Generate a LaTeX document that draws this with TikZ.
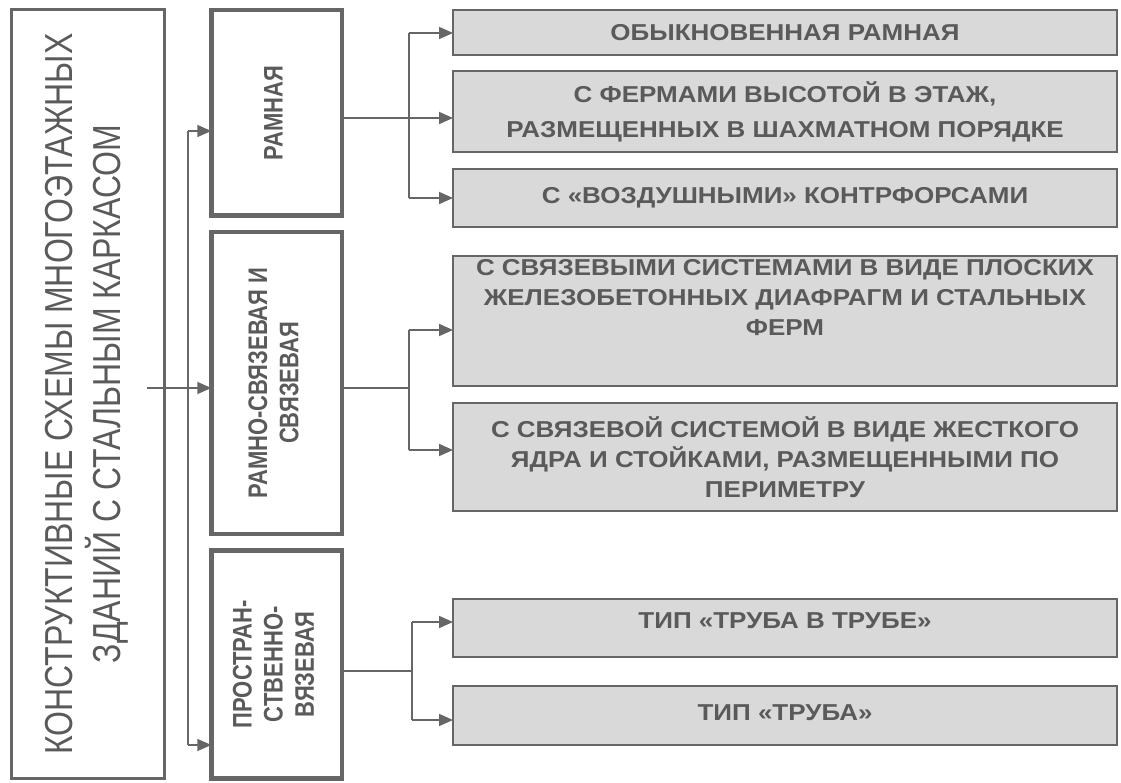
\documentclass[tikz,border=0pt]{standalone}
\usepackage{fontspec}
\setmainfont{Liberation Sans}
\newfontfamily\widefont[FakeStretch=1.13]{Liberation Sans}
\usetikzlibrary{arrows.meta}
\definecolor{framegray}{HTML}{666666}
\definecolor{textgray}{HTML}{5A5A5A}
\definecolor{cellfill}{HTML}{D9D9D9}
\newcommand{\uptext}[2]{\rotatebox{90}{\scalebox{1}[1.22]{#1\begin{tabular}{@{}c@{}}#2\end{tabular}}}}

\begin{document}
\begin{tikzpicture}[x=1pt,y=-1pt,
	mainbox/.style={draw=framegray,line width=3pt,anchor=north west,inner sep=0pt,outer sep=0pt,text=textgray},
	groupbox/.style={draw=framegray,line width=4.5pt,anchor=north west,inner sep=0pt,outer sep=0pt,minimum width=130.5pt,text=textgray},
	typebox/.style={draw=framegray,line width=1.6pt,fill=cellfill,anchor=north west,inner sep=0pt,outer sep=0pt,minimum width=664pt,text=textgray,align=center,font=\widefont\bfseries\fontsize{23}{30}\selectfont},
	link/.style={draw=framegray,line width=1.8pt},
	feed/.style={link,-{Triangle[length=14pt,width=12pt]}}]
			%%%%% START %%%%%
			\useasboundingbox (0,0) rectangle (1121,783);
			
			\node[mainbox,minimum width=153pt,minimum height=769pt] (frame) at (11.5,9.5)
				{\uptext{\fontsize{32}{34}\selectfont}{КОНСТРУКТИВНЫЕ СХЕМЫ МНОГОЭТАЖНЫХ\\ЗДАНИЙ С СТАЛЬНЫМ КАРКАСОМ}};
			
			\node[groupbox,minimum height=205.5pt] (ramn) at (211.25,10.25)
				{\uptext{\bfseries\fontsize{22}{25.5}\selectfont}{РАМНАЯ}};
			\node[groupbox,minimum height=301.5pt] (rsvz) at (211.25,232.25)
				{\uptext{\bfseries\fontsize{22}{25.5}\selectfont}{РАМНО-СВЯЗЕВАЯ И\\СВЯЗЕВАЯ}};
			\node[groupbox,minimum height=228pt] (prst) at (211.25,550.25)
				{\uptext{\bfseries\fontsize{22}{25.5}\selectfont}{ПРОСТРАН-\\СТВЕННО-\\ВЯЗЕВАЯ}};
			
			\node[typebox,minimum height=45pt] (typea) at (453,10) {ОБЫКНОВЕННАЯ РАМНАЯ};
			\node[typebox,minimum height=81pt,font=\widefont\bfseries\fontsize{23}{35}\selectfont] (typeb) at (453,71)
				{С ФЕРМАМИ ВЫСОТОЙ В ЭТАЖ,\\РАЗМЕЩЕННЫХ В ШАХМАТНОМ ПОРЯДКЕ};
			\node[typebox,minimum height=58pt,text depth=6pt] (typec) at (453,169) {С «ВОЗДУШНЫМИ» КОНТРФОРСАМИ};
			\node[typebox,minimum height=130pt] (typed) at (453,256)
				{\raisebox{15pt}[0pt][0pt]{\begin{tabular}{@{}c@{}}С СВЯЗЕВЫМИ СИСТЕМАМИ В ВИДЕ ПЛОСКИХ\\ЖЕЛЕЗОБЕТОННЫХ ДИАФРАГМ И СТАЛЬНЫХ\\ФЕРМ\end{tabular}}};
			\node[typebox,minimum height=108pt] (typee) at (453,403)
				{С СВЯЗЕВОЙ СИСТЕМОЙ В ВИДЕ ЖЕСТКОГО\\ЯДРА И СТОЙКАМИ, РАЗМЕЩЕННЫМИ ПО\\ПЕРИМЕТРУ};
			\node[typebox,minimum height=58pt,text depth=14pt] (typef) at (453,599) {ТИП «ТРУБА В ТРУБЕ»};
			\node[typebox,minimum height=59pt,text depth=6pt] (typeg) at (453,686) {ТИП «ТРУБА»};
			
			% main trunk
			\coordinate (src) at ([xshift=-18pt]frame.east);
			\coordinate (spineN) at (188,131);
			\coordinate (spineM) at (188,388);
			\coordinate (spineS) at (188,745);
			\draw[link] (spineN) -- (spineS);
			\draw[feed] (src |- spineM) -- (spineM -| rsvz.west);
			\draw[feed] (spineN) -- (spineN -| ramn.west);
			\draw[feed] (spineS) -- (spineS -| prst.west);
			
			% frame branch
			\coordinate (forkA) at (409,118);
			\coordinate (forkAn) at (409,33);
			\coordinate (forkAs) at (409,198);
			\draw[link] (forkA -| ramn.east) -- (forkA);
			\draw[link] (forkAn) -- (forkAs);
			\draw[feed] (forkAn) -- (forkAn -| typea.west);
			\draw[feed] (forkA) -- (forkA -| typeb.west);
			\draw[feed] (forkAs) -- (forkAs -| typec.west);
			
			% braced frame branch
			\coordinate (forkB) at (409,388);
			\coordinate (forkBn) at (409,330);
			\coordinate (forkBs) at (409,450);
			\draw[link] (forkB -| rsvz.east) -- (forkB);
			\draw[link] (forkBn) -- (forkBs);
			\draw[feed] (forkBn) -- (forkBn -| typed.west);
			\draw[feed] (forkBs) -- (forkBs -| typee.west);
			
			% spatial branch
			\coordinate (forkC) at (412,671);
			\coordinate (forkCn) at (412,622);
			\coordinate (forkCs) at (412,720);
			\draw[link] (forkC -| prst.east) -- (forkC);
			\draw[link] (forkCn) -- (forkCs);
			\draw[feed] (forkCn) -- (forkCn -| typef.west);
			\draw[feed] (forkCs) -- (forkCs -| typeg.west);
			
			%%%%% END %%%%%
\end{tikzpicture}
\end{document}
